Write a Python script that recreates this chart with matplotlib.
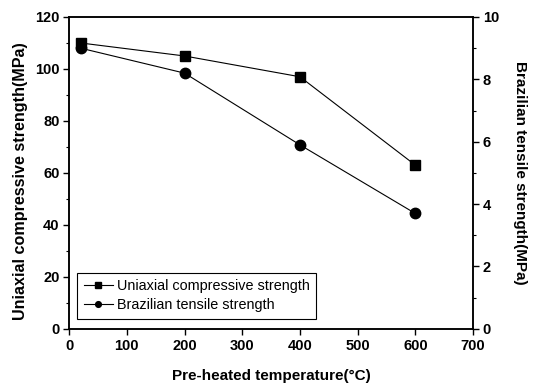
import matplotlib
matplotlib.use("Agg")
import matplotlib.pyplot as plt
from matplotlib.ticker import MultipleLocator

# pre-heated temperature (deg C)
temp = [20, 200, 400, 600]
# uniaxial compressive strength (MPa)
ucs = [110, 105, 97, 63]
# brazilian tensile strength (MPa)
bts = [9.0, 8.2, 5.9, 3.7]

plt.rcParams['font.family'] = ['Liberation Sans', 'DejaVu Sans']

fig = plt.figure(figsize=(5.4, 3.86), dpi=100)
ax = fig.add_axes([0.128, 0.148, 0.748, 0.808])
ax2 = ax.twinx()

l1, = ax.plot(temp, ucs, color='black', lw=0.8, marker='s', ms=7,
              label='Uniaxial compressive strength')
l2, = ax2.plot(temp, bts, color='black', lw=0.8, marker='o', ms=7.5,
               label='Brazilian tensile strength')

ax.set_xlim(0, 700)
ax.set_ylim(0, 120)
ax2.set_ylim(0, 10)
ax.xaxis.set_major_locator(MultipleLocator(100))
ax.yaxis.set_major_locator(MultipleLocator(20))
ax.yaxis.set_minor_locator(MultipleLocator(10))
ax2.yaxis.set_major_locator(MultipleLocator(2))
ax2.yaxis.set_minor_locator(MultipleLocator(1))

for a in (ax, ax2):
    a.tick_params(which='major', direction='out', length=4, width=1, labelsize=10.5, pad=3)
    a.tick_params(which='minor', direction='out', length=2, width=0.8)
    for lab in a.get_xticklabels() + a.get_yticklabels():
        lab.set_fontweight('bold')
    for s in a.spines.values():
        s.set_linewidth(1.1)

ax.set_xlabel('Pre-heated temperature(\u00b0C)', fontsize=11, fontweight='bold', labelpad=12)
ax.set_ylabel('Uniaxial compressive strength(MPa)', fontsize=11.6, fontweight='bold')
ax.yaxis.set_label_coords(-0.103, 0.475)
ax2.set_ylabel('Brazilian tensile strength(MPa)', fontsize=11, fontweight='bold',
               rotation=270, labelpad=20)

# legend with small markers like the original
leg = ax.legend([l1, l2], [l1.get_label(), l2.get_label()], loc='lower left',
                bbox_to_anchor=(0.02, 0.032), borderaxespad=0, fontsize=10.4,
                markerscale=0.55, handlelength=2.0, handletextpad=0.3,
                borderpad=0.45, labelspacing=0.35, fancybox=False,
                framealpha=1, edgecolor='black')
leg.get_frame().set_linewidth(0.8)

fig.savefig('out.png', dpi=100)
